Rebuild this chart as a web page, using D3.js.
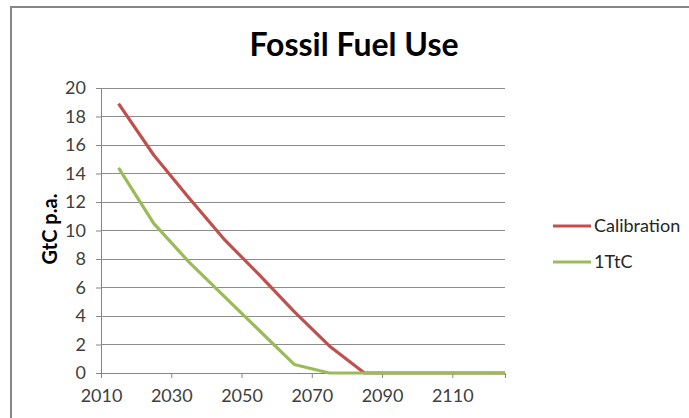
<!DOCTYPE html>
<html><head><meta charset="utf-8">
<script src="https://cdn.jsdelivr.net/npm/d3@7"></script>
<style>body{margin:0;background:#fff;}svg{display:block;}</style>
</head><body>
<script>
const years = [2015, 2025, 2035, 2045, 2055, 2065, 2075, 2085, 2095, 2105, 2115, 2125];
const calibration = [18.9, 15.3, 12.3, 9.4, 6.9, 4.3, 1.9, 0, 0, 0, 0, 0];
const ttc1 = [14.4, 10.5, 7.8, 5.4, 3.0, 0.6, 0, 0, 0, 0, 0, 0];
const yTicks = [0, 2, 4, 6, 8, 10, 12, 14, 16, 18, 20];
const xTicks = [2010, 2030, 2050, 2070, 2090, 2110];
const seriesNames = ["Calibration", "1TtC"];
const colors = ["#C0504D", "#9BBB59"];

const W = 689, H = 418;
const font = "Lato, 'Open Sans', sans-serif";
const svg = d3.select("body").append("svg").attr("width", W).attr("height", H);

// outer frame
svg.append("rect").attr("x", 11).attr("y", 7).attr("width", 700).attr("height", 500)
  .attr("fill", "#fff").attr("stroke", "#868686").attr("stroke-width", 2);

const x = d3.scaleLinear().domain([2010, 2125]).range([101, 505]);
const y = d3.scaleLinear().domain([0, 20]).range([373, 88]);

// gridlines
svg.append("g").selectAll("line").data(yTicks.filter(d => d > 0)).join("line")
  .attr("x1", x(2010)).attr("x2", x(2125))
  .attr("y1", d => y(d)).attr("y2", d => y(d))
  .attr("stroke", "#8c8c8c").attr("stroke-width", 1).attr("shape-rendering", "crispEdges");

// y axis
const yAxis = svg.append("g").attr("transform", `translate(${x(2010)},0)`)
  .call(d3.axisLeft(y).tickValues(yTicks).tickSize(5).tickPadding(10).tickFormat(d3.format("d")));
yAxis.select(".domain").attr("stroke", "#868686");
yAxis.selectAll(".tick line").attr("stroke", "#868686");
yAxis.selectAll("text").attr("font-family", font).attr("font-size", 18).attr("fill", "#404040");

// x axis
const xAxis = svg.append("g").attr("transform", `translate(0,${y(0)})`)
  .call(d3.axisBottom(x).tickValues(xTicks).tickSize(5).tickPadding(11).tickFormat(d3.format("d")));
xAxis.select(".domain").attr("stroke", "#868686");
xAxis.selectAll(".tick line").attr("stroke", "#868686");
xAxis.selectAll("text").attr("font-family", font).attr("font-size", 18).attr("fill", "#404040");

// lines
const line = d3.line().x((d, i) => x(years[i])).y(d => y(d));
[calibration, ttc1].forEach((s, i) => {
  svg.append("path").datum(s).attr("d", line).attr("fill", "none")
    .attr("stroke", colors[i]).attr("stroke-width", 3.2).attr("stroke-linejoin", "round");
});

// title
svg.append("text").attr("x", 354).attr("y", 56).attr("text-anchor", "middle")
  .attr("font-family", font).attr("font-weight", "bold").attr("font-size", 32).attr("fill", "#000")
  .text("Fossil Fuel Use");

// y axis title
svg.append("text").attr("transform", "translate(57,229) rotate(-90)").attr("text-anchor", "middle")
  .attr("font-family", font).attr("font-weight", "bold").attr("font-size", 20).attr("fill", "#000")
  .text("GtC p.a.");

// legend
const lg = svg.append("g");
seriesNames.forEach((n, i) => {
  const ly = 226 + i * 36;
  lg.append("line").attr("x1", 553).attr("x2", 591).attr("y1", ly).attr("y2", ly)
    .attr("stroke", colors[i]).attr("stroke-width", 3);
  lg.append("text").attr("x", 594).attr("y", ly + 6).attr("font-family", font)
    .attr("font-size", 18).attr("fill", "#262626").text(n);
});
</script>
</body></html>
